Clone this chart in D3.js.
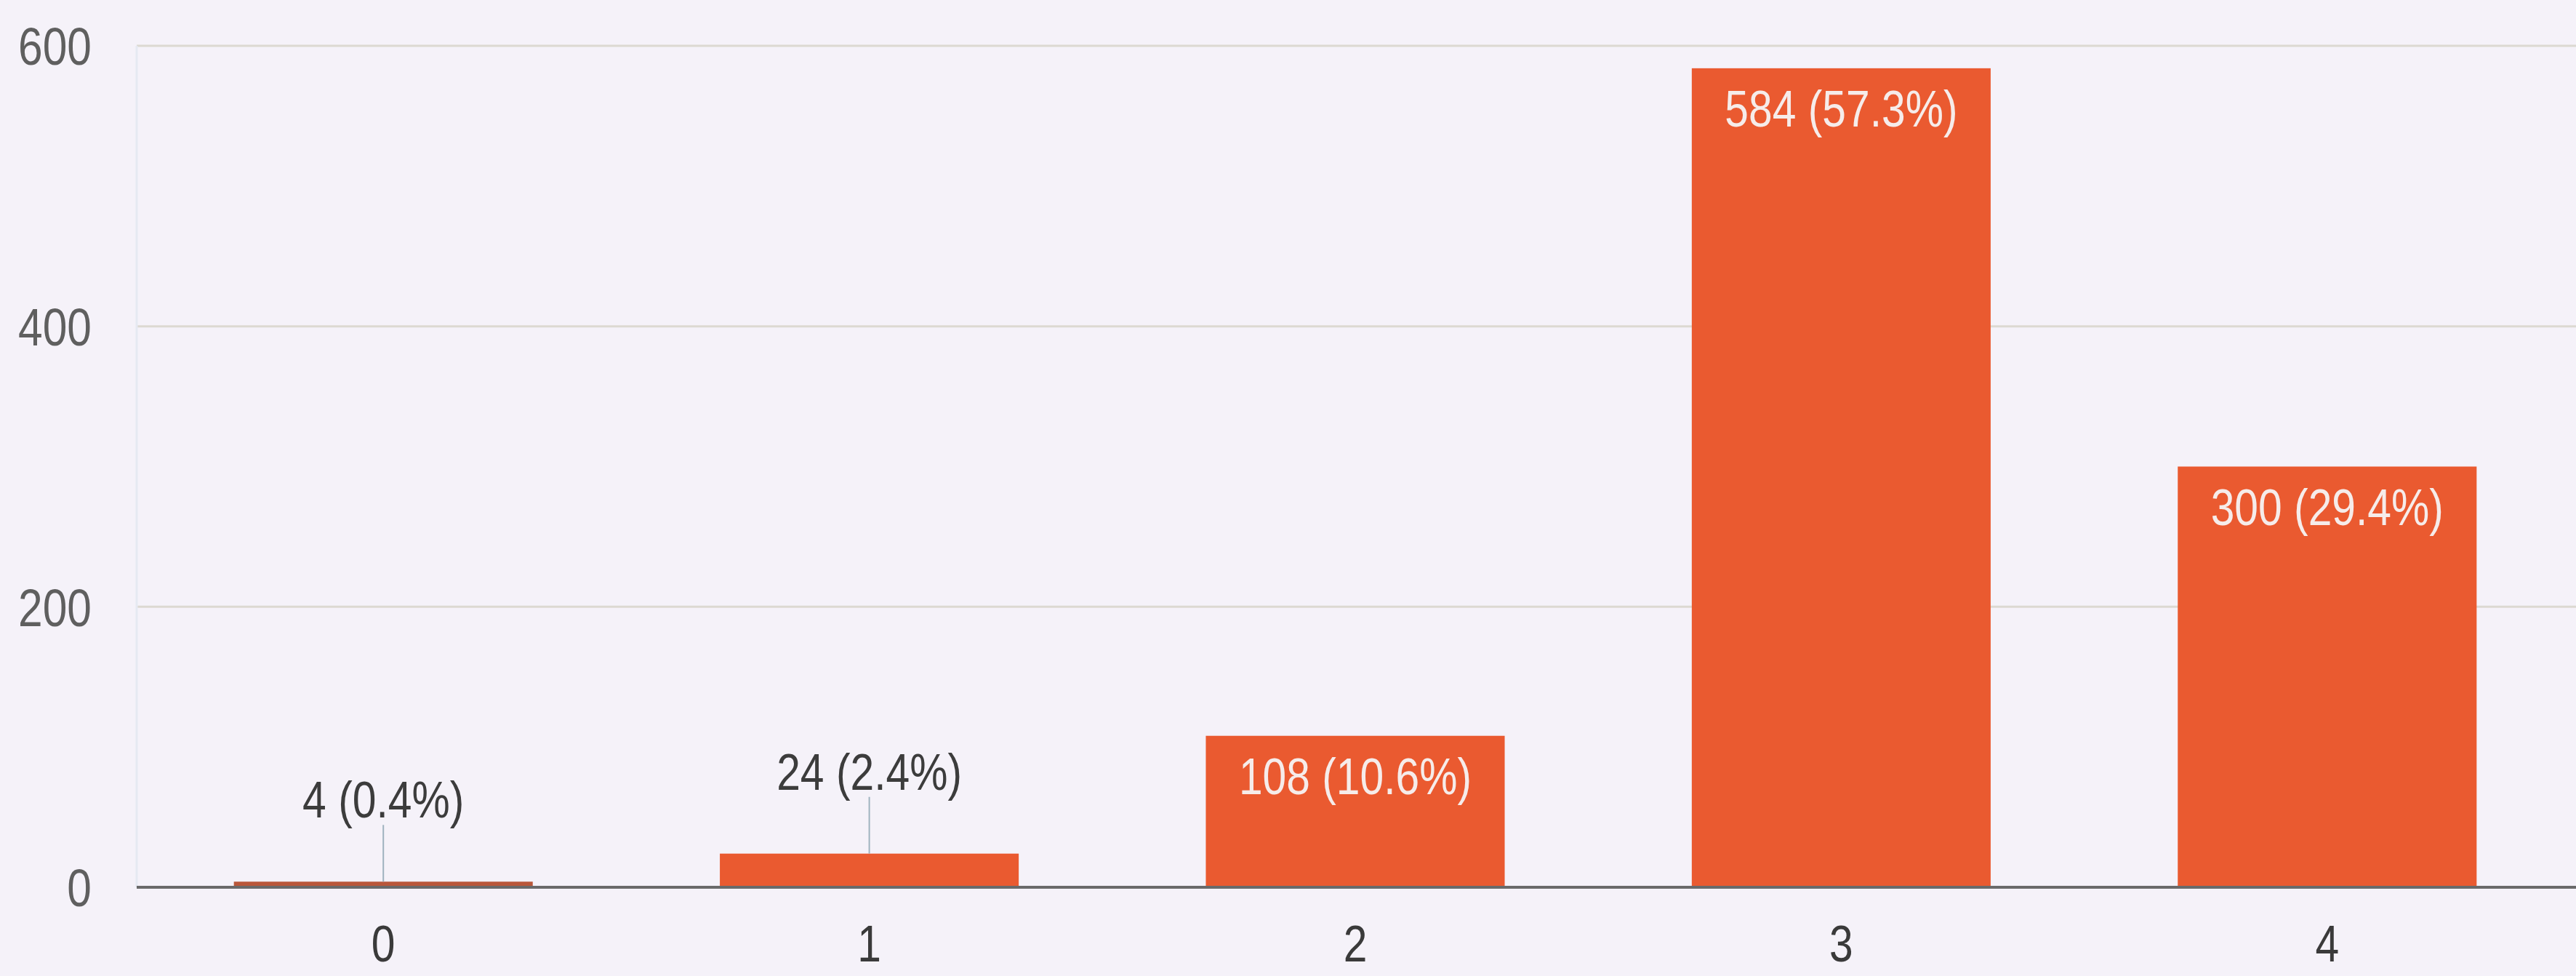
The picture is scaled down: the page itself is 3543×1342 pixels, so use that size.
<!DOCTYPE html>
<html>
<head>
<meta charset="utf-8">
<script src="https://cdn.jsdelivr.net/npm/d3@7"></script>
<style>
  html, body { margin: 0; padding: 0; background: #f5f2f9; }
  svg { display: block; }
  text { font-family: "Liberation Sans", Arial, sans-serif; }
</style>
</head>
<body>
<script>
// Chart data
const categories = ["0", "1", "2", "3", "4"];
const counts = [4, 24, 108, 584, 300];
const percents = ["0.4%", "2.4%", "10.6%", "57.3%", "29.4%"];
const yTicks = [0, 200, 400, 600];

// Layout
const width = 3543;
const height = 1342;
const margin = {top: 63, right: 3, bottom: 122, left: 188};
const squeeze = 0.84;                                   // narrow look of the scanned font

const data = categories.map((c, i) => ({cat: c, value: counts[i], pct: percents[i]}));

const svg = d3.select('body')
  .append('svg')
  .attr('width', width)
  .attr('height', height);

svg.append('rect')
  .attr('width', width)
  .attr('height', height)
  .attr('fill', '#f5f2f9');

// Scales
const xScale = d3.scaleBand()
  .domain(categories)
  .range([margin.left, width - margin.right])
  .paddingInner(0.385)
  .paddingOuter(0.2);

const yScale = d3.scaleLinear()
  .domain([0, 600])
  .range([height - margin.bottom, margin.top]);

// Gridlines
svg.append('g')
  .classed('grid', true)
  .selectAll('line')
  .data(yTicks.filter(d => d > 0))
  .join('line')
  .attr('x1', margin.left)
  .attr('x2', width)
  .attr('y1', d => yScale(d))
  .attr('y2', d => yScale(d))
  .attr('stroke', '#dcd9d2')
  .attr('stroke-width', 3);

// faint left edge of the plot
svg.append('line')
  .attr('x1', margin.left).attr('x2', margin.left)
  .attr('y1', yScale(600)).attr('y2', yScale(0))
  .attr('stroke', '#e6e9f2')
  .attr('stroke-width', 3);

// Y axis labels
const yAxis = d3.axisLeft(yScale)
  .tickValues(yTicks)
  .tickSize(0)
  .tickPadding(0)
  .tickFormat(d3.format('d'));

const gy = svg.append('g')
  .classed('axis y', true)
  .attr('transform', 'translate(' + 126 + ',0)')
  .call(yAxis);
gy.select('.domain').remove();
gy.selectAll('.tick text')
  .attr('x', 0)
  .attr('dy', '0.36em')
  .attr('font-size', 72)
  .attr('fill', '#5f5f5f')
  .attr('transform', 'scale(' + squeeze + ',1)');

// Bars
svg.append('g')
  .classed('bars', true)
  .selectAll('rect')
  .data(data)
  .join('rect')
  .attr('x', d => xScale(d.cat))
  .attr('y', d => yScale(d.value))
  .attr('width', xScale.bandwidth())
  .attr('height', d => yScale(0) - yScale(d.value))
  .attr('fill', d => d.value < 10 ? '#b9573a' : '#ea5a30');

// Baseline
svg.append('line')
  .attr('x1', margin.left)
  .attr('x2', width)
  .attr('y1', yScale(0))
  .attr('y2', yScale(0))
  .attr('stroke', '#6a6a6a')
  .attr('stroke-width', 4);

// X axis labels
const xAxis = d3.axisBottom(xScale)
  .tickSize(0)
  .tickPadding(0);

const gx = svg.append('g')
  .classed('axis x', true)
  .attr('transform', 'translate(0,' + 1322 + ')')
  .call(xAxis);
gx.select('.domain').remove();
gx.selectAll('.tick text')
  .attr('y', 0)
  .attr('dy', 0)
  .attr('font-size', 70)
  .attr('fill', '#3a3a3a')
  .attr('transform', 'scale(' + squeeze + ',1)');

// Value labels: inside the bar when it is tall enough, else above with a leader line
const inside = d => yScale(0) - yScale(d.value) > 120;
const cx = d => xScale(d.cat) + xScale.bandwidth() / 2;

const labels = svg.append('g').classed('labels', true);

labels.selectAll('line')
  .data(data.filter(d => !inside(d)))
  .join('line')
  .attr('x1', cx)
  .attr('x2', cx)
  .attr('y1', d => yScale(d.value) - 78)
  .attr('y2', d => yScale(d.value))
  .attr('stroke', '#9fb3bf')
  .attr('stroke-width', 2);

labels.selectAll('text')
  .data(data)
  .join('text')
  .attr('transform', d => 'translate(' + cx(d) + ',' + (inside(d) ? yScale(d.value) + 80 : yScale(d.value) - 88) + ') scale(' + squeeze + ',1)')
  .attr('text-anchor', 'middle')
  .attr('font-size', 70)
  .attr('fill', d => inside(d) ? '#f6ecea' : '#3c3c3c')
  .text(d => d.value + ' (' + d.pct + ')');
</script>
</body>
</html>
